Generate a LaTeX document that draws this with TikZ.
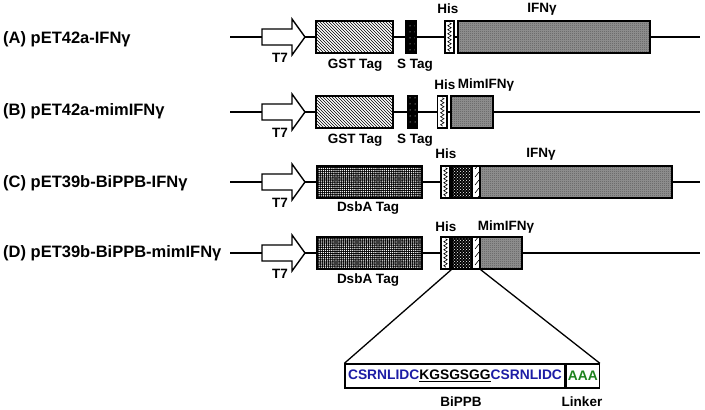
\documentclass[tikz,border=0pt]{standalone}
\usepackage{fontspec}
\setmainfont{Liberation Sans}
\usetikzlibrary{patterns,decorations.pathmorphing}
\definecolor{seqblue}{RGB}{28,28,165}
\definecolor{seqgreen}{RGB}{30,130,30}
\pgfdeclarepatternformonly{checkerfine}{\pgfqpoint{0pt}{0pt}}{\pgfqpoint{2pt}{2pt}}{\pgfqpoint{2pt}{2pt}}{\pgfpathrectangle{\pgfqpoint{0pt}{0pt}}{\pgfqpoint{1pt}{1pt}}\pgfpathrectangle{\pgfqpoint{1pt}{1pt}}{\pgfqpoint{1pt}{1pt}}\pgfusepath{fill}}
\pgfdeclarepatternformonly{densedots}{\pgfqpoint{-1pt}{-1pt}}{\pgfqpoint{1pt}{1pt}}{\pgfqpoint{2.1pt}{2.1pt}}{\pgfpathcircle{\pgfqpoint{0pt}{0pt}}{0.72pt}\pgfusepath{fill}}
\pgfdeclarepatternformonly{sparsedots}{\pgfqpoint{-1pt}{-1pt}}{\pgfqpoint{1pt}{1pt}}{\pgfqpoint{5pt}{6pt}}{\pgfpathcircle{\pgfqpoint{0pt}{0pt}}{0.5pt}\pgfusepath{fill}}
\pgfdeclarepatternformonly{sparsene}{\pgfqpoint{-1pt}{-1pt}}{\pgfqpoint{7pt}{9pt}}{\pgfqpoint{6pt}{8pt}}{\pgfsetlinewidth{0.6pt}\pgfpathmoveto{\pgfqpoint{1pt}{1pt}}\pgfpathlineto{\pgfqpoint{5pt}{6pt}}\pgfusepath{stroke}}
\newcommand\lblfont{\fontsize{13.5}{15}\selectfont\bfseries}
\newcommand\bigfont{\fontsize{16.5}{18}\selectfont\bfseries}
\newcommand\hiszig[1]{\draw[line width=0.6pt, decorate, decoration={zigzag, segment length=4pt, amplitude=1.7pt}] ([yshift=-2.5pt]#1.north) -- ([yshift=2.5pt]#1.south);}
\begin{document}
\begin{tikzpicture}[x=1pt,y=-1pt,
  bb/.style={line width=1.8pt},
  box/.style={draw, line width=1.5pt, inner sep=0pt, minimum height=32pt},
  gst/.style={box, preaction={fill=white}, pattern=north west lines},
  stag/.style={box, preaction={fill=black}, pattern=sparsedots, pattern color=white},
  hisbox/.style={box, fill=white},
  ifn/.style={box, preaction={fill=black!42}, pattern=checkerfine, pattern color=black!65},
  dsba/.style={box, preaction={fill=black}, pattern=densedots, pattern color=white},
  darkb/.style={box, preaction={fill=black}, pattern=crosshatch dots, pattern color=white},
  lightb/.style={box, preaction={fill=white}, pattern=sparsene},
  lbl/.style={font=\lblfont, inner sep=0pt},
  title/.style={font=\bigfont, inner sep=0pt, anchor=west},
  zoomline/.style={line width=1.3pt},
  seqbox/.style={draw, line width=1.3pt, inner sep=0pt, minimum height=24pt, font=\fontsize{13.8}{15}\selectfont\bfseries},
  t7arrow/.pic={\draw[fill=white, line width=1.4pt] (0,-8) -- (30,-8) -- (30,-18) -- (43,0) -- (30,18) -- (30,8) -- (0,8) -- cycle;
    \coordinate (-tip) at (43,0);}
]
\useasboundingbox (0,0) rectangle (705,410);

% ---------- titles ----------
\node[title] (tA) at (3,39) {(A) pET42a-IFNγ};
\node[title] (tB) at (3,111) {(B) pET42a-mimIFNγ};
\node[title] (tC) at (3,183) {(C) pET39b-BiPPB-IFNγ};
\node[title] (tD) at (3,253) {(D) pET39b-BiPPB-mimIFNγ};

% ---------- backbones ----------
\foreach \r/\y in {A/37,B/112,C/182,D/253}{
  \coordinate (s\r) at (230,\y);
  \coordinate (e\r) at (700,\y);
  \draw[bb] (s\r) -- (e\r);
  \pic (p\r) at (262,\y) {t7arrow};
  \node[lbl] (t7\r) at (280,\y+21) {T7};
}

% ---------- row A ----------
\node[gst, minimum width=77pt] (gstA) at (354.5,37) {};
\node[stag, minimum width=10pt] (sA) at (411,37) {};
\node[hisbox, minimum width=9pt] (hisA) at (449.5,37) {};
\hiszig{hisA}
\node[ifn, minimum width=192pt] (ifnA) at (554,37) {};
\node[lbl] (gstAl) at (355,65) {GST Tag};
\node[lbl] (sAl) at (415,65) {S Tag};
\node[lbl] (hisAl) at (448,9) {His};
\node[lbl] (ifnAl) at (542,9) {IFNγ};

% ---------- row B ----------
\node[gst, minimum width=77pt] (gstB) at (354.5,112) {};
\node[stag, minimum width=9pt] (sB) at (412.5,112) {};
\node[hisbox, minimum width=9.5pt] (hisB) at (442.3,112) {};
\hiszig{hisB}
\node[ifn, minimum width=42pt] (mimB) at (472,112) {};
\node[lbl] (gstBl) at (355,140) {GST Tag};
\node[lbl] (sBl) at (415,140) {S Tag};
\node[lbl] (hisBl) at (445,85) {His};
\node[lbl] (mimBl) at (486,85) {MimIFNγ};

% ---------- row C ----------
\node[dsba, minimum width=105pt] (dsC) at (369.5,182) {};
\node[hisbox, minimum width=9pt] (hisC) at (445.5,182) {};
\hiszig{hisC}
\node[darkb, minimum width=20pt] (dkC) at (462,182) {};
\node[lightb, minimum width=8pt] (ltC) at (476,182) {};
\node[ifn, minimum width=192pt] (ifnC) at (576,182) {};
\node[lbl] (hisCl) at (446,154) {His};
\node[lbl] (ifnCl) at (541,154) {IFNγ};
\node[lbl] (dsCl) at (368,208) {DsbA Tag};

% ---------- row D ----------
\node[dsba, minimum width=105pt] (dsD) at (369.5,253) {};
\node[hisbox, minimum width=9pt] (hisD) at (445.5,253) {};
\hiszig{hisD}
\node[darkb, minimum width=20pt] (dkD) at (462,253) {};
\node[lightb, minimum width=8pt] (ltD) at (476,253) {};
\node[ifn, minimum width=42pt] (mimD) at (501,253) {};
\node[lbl] (hisDl) at (446,227) {His};
\node[lbl] (mimDl) at (506,227) {MimIFNγ};
\node[lbl] (dsDl) at (368,280) {DsbA Tag};

% ---------- sequence ----------
\node[seqbox, minimum width=220pt] (seq) at (455,376)
  {\color{seqblue}CSRNLIDC\color{black}\underline{KGSGSGG}\color{seqblue}CSRNLIDC};
\node[seqbox, minimum width=33pt, anchor=west] (lnk) at (seq.east) {\color{seqgreen}AAA};
\draw[zoomline] (dkD.south west) -- (seq.north west);
\draw[zoomline] (ltD.south east) -- (lnk.north east);
\node[lbl] (bippb) at (461,402) {BiPPB};
\node[lbl] (linker) at (582,402) {Linker};
\end{tikzpicture}
\end{document}
